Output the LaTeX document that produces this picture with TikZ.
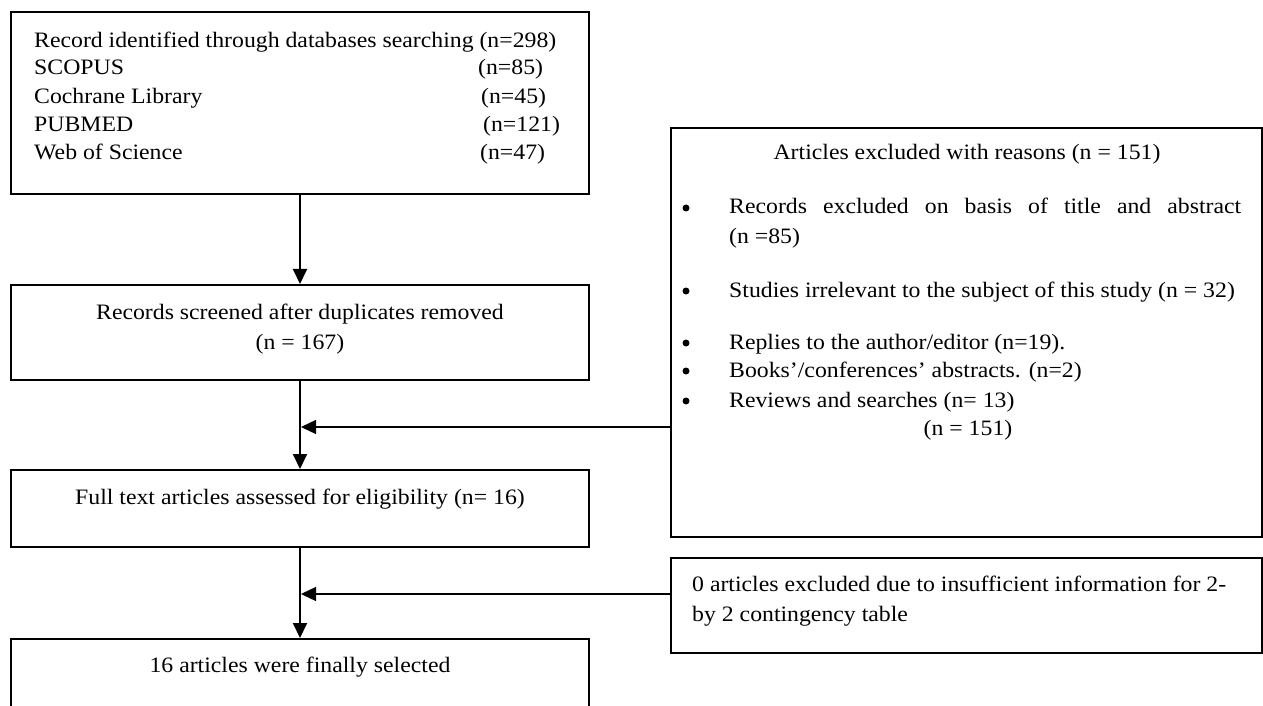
\documentclass[tikz,border=0pt]{standalone}
\usepackage{fontspec}
\setmainfont{Liberation Serif}[FakeStretch=1.08]
\usetikzlibrary{arrows.meta}

\begin{document}
\begin{tikzpicture}[x=1bp, y=-1bp,
    every node/.style={font=\fontsize{22bp}{28bp}\selectfont, inner sep=0pt},
    box/.style={draw, line width=2bp, minimum width=577bp},
    txt/.style={anchor=base west},
    ctr/.style={anchor=base},
    dot/.style={circle, fill, minimum size=7bp},
    main/.style={line width=2bp, -{Triangle[length=15bp, width=14bp]}},
    side/.style={line width=1.3bp, -{Triangle[length=15bp, width=14bp]}}]
    \useasboundingbox (0,0) rectangle (1263,706);
    \clip (0,0) rectangle (1263,706);

    % left column
    \node[box, minimum height=182bp] (rec) at (300,103) {};
    \node[box, minimum height=95bp] (scr) at (300,332.5) {};
    \node[box, minimum height=77bp] (full) at (300,508.5) {};
    \node[box, minimum height=95bp] (sel) at (300,686.5) {};

    % right column
    \node[box, minimum width=591bp, minimum height=409bp] (excl) at (966.5,332.5) {};
    \node[box, minimum width=591bp, minimum height=95bp] (insuf) at (966.5,605.5) {};

    \node[txt] (r0) at (34,48) {Record identified through databases searching (n=298)};
    \node[txt] (r1) at (34,75) {SCOPUS};
    \node[txt] (n1) at (478,75) {(n=85)};
    \node[txt] (r2) at (34,104) {Cochrane Library};
    \node[txt] (n2) at (481,104) {(n=45)};
    \node[txt] (r3) at (34,132) {PUBMED};
    \node[txt] (n3) at (483,132) {(n=121)};
    \node[txt] (r4) at (34,160) {Web of Science};
    \node[txt] (n4) at (480,160) {(n=47)};

    \node[ctr] (s1) at (300,319) {Records screened after duplicates removed};
    \node[ctr] (s2) at (300,349) {(n = 167)};
    \node[ctr] (f1) at (300,504) {Full text articles assessed for eligibility (n= 16)};
    \node[ctr] (l1) at (300,672) {16 articles were finally selected};

    \node[ctr] (e0) at (967,160) {Articles excluded with reasons (n = 151)};
    \node[dot] (b1) at (686,208) {};
    \node[txt] (e1) at (729,214) {\makebox[512bp][s]{Records excluded on basis of title and abstract}};
    \node[txt] (e1b) at (729,244) {(n =85)};
    \node[dot] (b2) at (686,291) {};
    \node[txt] (e2) at (729,297) {Studies irrelevant to the subject of this study (n = 32)};
    \node[dot] (b3) at (686,343) {};
    \node[txt] (e3) at (729,349) {Replies to the author/editor (n=19).};
    \node[dot] (b4) at (686,371) {};
    \node[txt] (e4) at (729,377) {Books’/conferences’ abstracts. (n=2)};
    \node[dot] (b5) at (686,401) {};
    \node[txt] (e5) at (729,407) {Reviews and searches (n= 13)};
    \node[ctr] (e6) at (968,435) {(n = 151)};

    \node[txt] (i1) at (692,591) {0 articles excluded due to insufficient information for 2-};
    \node[txt] (i2) at (692,621) {by 2 contingency table};

    \coordinate (j1) at (301,427);
    \coordinate (j2) at (301,594);

    \draw[main] (rec) -- (scr);
    \draw[main] (scr) -- (full);
    \draw[main] (full) -- (sel);
    \draw[side] (excl.west |- j1) -- (j1);
    \draw[side] (insuf.west |- j2) -- (j2);
\end{tikzpicture}
\end{document}
